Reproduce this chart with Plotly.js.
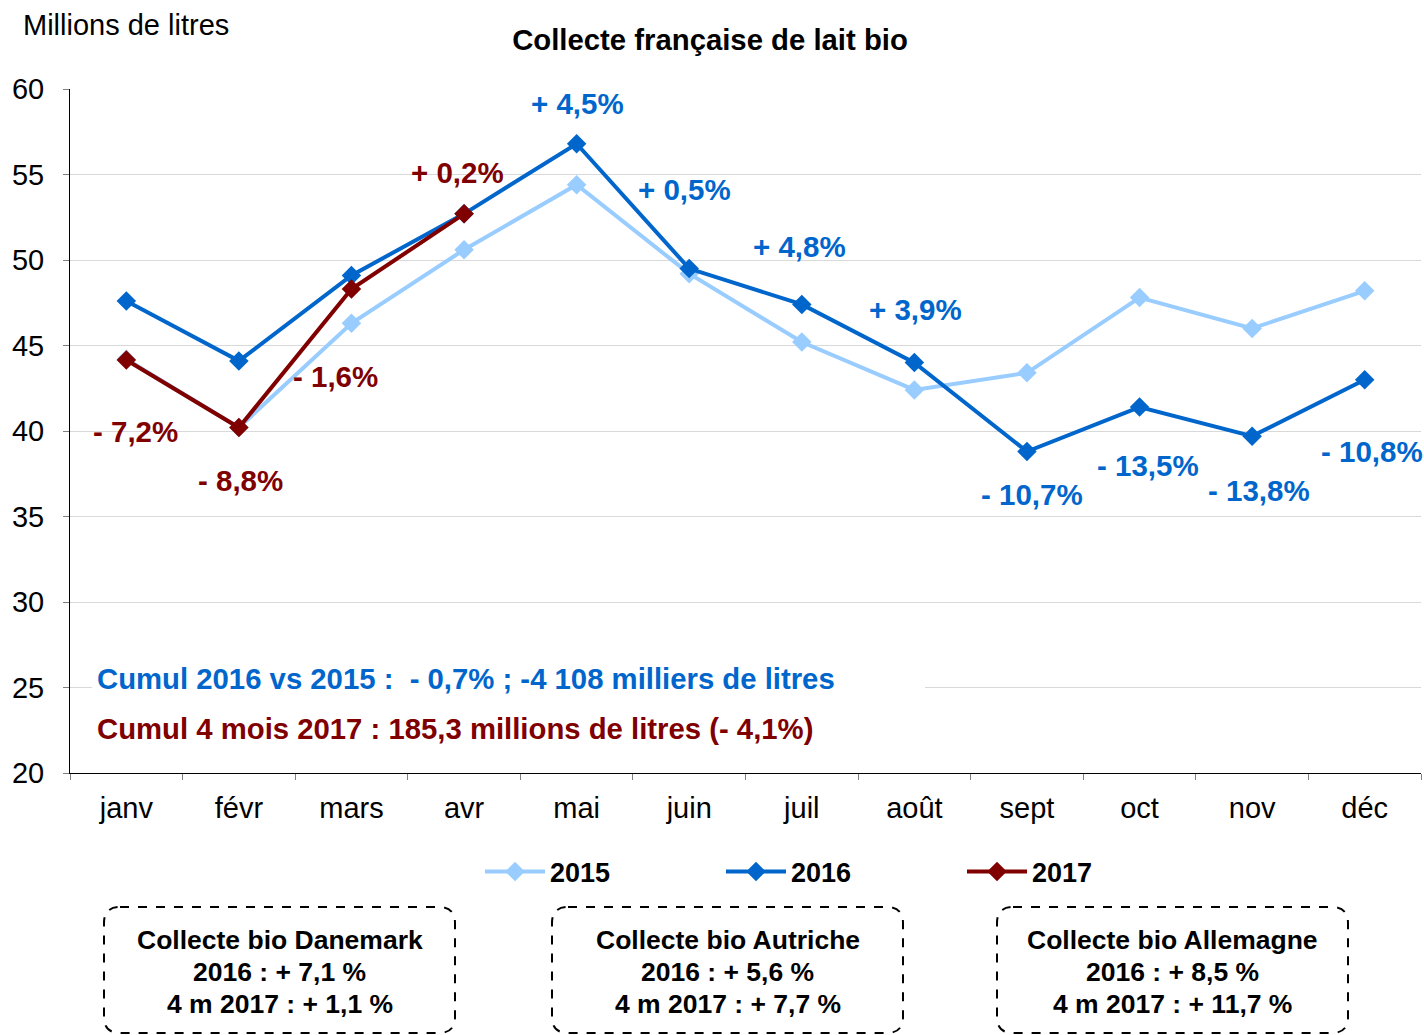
<!DOCTYPE html>
<html>
<head>
<meta charset="utf-8">
<script src="https://cdn.plot.ly/plotly-3.0.1.min.js"></script>
<style>html,body{margin:0;padding:0;background:#fff;}#chart{width:1424px;height:1035px;}</style>
</head>
<body>
<div id="chart"></div>
<script>
var months = ['janv','févr','mars','avr','mai','juin','juil','août','sept','oct','nov','déc'];
var v2015 = [44.2, 40.2, 46.3, 50.6, 54.4, 49.2, 45.2, 42.4, 43.4, 47.8, 46.0, 48.2];
var v2016 = [47.6, 44.1, 49.1, 52.7, 56.8, 49.5, 47.4, 44.0, 38.8, 41.4, 39.7, 43.0];
var v2017 = [44.15, 40.2, 48.3, 52.7];
var months2017 = months.slice(0, 4);

// percentage labels: month, text, y position (value units), x shift px, colour key
var lblMonth = ['mai','juin','juil','août','sept','oct','nov','déc','avr','mars','janv','févr'];
var lblText = ['+ 4,5%','+ 0,5%','+ 4,8%','+ 3,9%','- 10,7%','- 13,5%','- 13,8%','- 10,8%','+ 0,2%','- 1,6%','- 7,2%','- 8,8%'];
var lblY = [59.15, 54.1, 50.8, 47.1, 36.3, 38.0, 36.5, 38.8, 55.1, 43.2, 40.0, 37.1];
var lblShift = [1, -5, -2, 1, 5, 8, 7, 7, -7, -16, 9, 2];
var lblColor = ['b','b','b','b','b','b','b','b','r','r','r','r'];

var boxTitles = ['Collecte bio Danemark','Collecte bio Autriche','Collecte bio Allemagne'];
var box2016 = ['+ 7,1 %','+ 5,6 %','+ 8,5 %'];
var box2017 = ['+ 1,1 %','+ 7,7 %','+ 11,7 %'];

var cumul2016 = 'Cumul 2016 vs 2015 :  - 0,7% ; -4 108 milliers de litres';
var cumul2017 = 'Cumul 4 mois 2017 : 185,3 millions de litres (- 4,1%)';

var C15 = '#99CCFF', C16 = '#0066CC', C17 = '#800000';
var FONT = 'Liberation Sans, Arial, sans-serif';

var traces = [
  {x: months, y: v2015, name: '<b>2015</b>', type: 'scatter', mode: 'lines+markers',
   line: {color: C15, width: 4}, marker: {symbol: 'diamond', size: 15, color: C15}},
  {x: months, y: v2016, name: '<b>2016</b>', type: 'scatter', mode: 'lines+markers',
   line: {color: C16, width: 4}, marker: {symbol: 'diamond', size: 15, color: C16}},
  {x: months2017, y: v2017, name: '<b>2017</b>', type: 'scatter', mode: 'lines+markers',
   line: {color: C17, width: 4}, marker: {symbol: 'diamond', size: 15, color: C17}}
];

// plot area in pixels
var L = 70, R = 1421, T = 89, B = 773, W = 1424, H = 1035;
function px(x){ return (x - L) / (R - L); }
function py(y){ return (B - y) / (B - T); }

var annotations = [];
for (var i = 0; i < lblMonth.length; i++) {
  annotations.push({x: lblMonth[i], y: lblY[i], xref: 'x', yref: 'y', text: '<b>' + lblText[i] + '</b>',
    showarrow: false, xshift: lblShift[i], font: {family: FONT, size: 29.5, color: lblColor[i] === 'b' ? C16 : C17}});
}
annotations.push({xref: 'paper', yref: 'paper', x: px(21), y: py(25), xanchor: 'left', yanchor: 'middle',
  text: 'Millions de litres', showarrow: false, font: {family: FONT, size: 29, color: '#000'}});
annotations.push({xref: 'paper', yref: 'paper', x: px(95), y: py(678), xanchor: 'left', yanchor: 'middle',
  text: '<b>' + cumul2016 + '</b>', showarrow: false,
  font: {family: FONT, size: 29.3, color: C16}});
annotations.push({xref: 'paper', yref: 'paper', x: px(95), y: py(728), xanchor: 'left', yanchor: 'middle',
  text: '<b>' + cumul2017 + '</b>', showarrow: false,
  font: {family: FONT, size: 29.3, color: C17}});

var boxLeft = [104, 552, 997], boxW = 351, boxTop = 907, boxBot = 1033;
var boxLineY = [940, 972, 1004];
var shapes = [];
// white strip behind cumul line hides the 25 gridline
shapes.push({type: 'rect', xref: 'paper', yref: 'paper', x0: px(92), x1: px(925), y0: py(696), y1: py(662),
  fillcolor: '#fff', line: {width: 0}, layer: 'above'});
for (var k = 0; k < 3; k++) {
  var x0 = boxLeft[k], x1 = boxLeft[k] + boxW, y0 = boxTop, y1 = boxBot, r = 16;
  var rx = r / (R - L), ry = r / (B - T);
  var X0 = px(x0), X1 = px(x1), Y0 = py(y0), Y1 = py(y1);
  var path = 'M' + (X0 + rx) + ',' + Y0 + ' L' + (X1 - rx) + ',' + Y0 +
    ' Q' + X1 + ',' + Y0 + ' ' + X1 + ',' + (Y0 - ry) +
    ' L' + X1 + ',' + (Y1 + ry) + ' Q' + X1 + ',' + Y1 + ' ' + (X1 - rx) + ',' + Y1 +
    ' L' + (X0 + rx) + ',' + Y1 + ' Q' + X0 + ',' + Y1 + ' ' + X0 + ',' + (Y1 + ry) +
    ' L' + X0 + ',' + (Y0 - ry) + ' Q' + X0 + ',' + Y0 + ' ' + (X0 + rx) + ',' + Y0 + ' Z';
  shapes.push({type: 'path', xref: 'paper', yref: 'paper', path: path,
    line: {color: '#000', width: 2, dash: 'dash'}, fillcolor: 'rgba(0,0,0,0)'});
  var lines = [boxTitles[k], '2016 : ' + box2016[k], '4 m 2017 : ' + box2017[k]];
  for (var j = 0; j < 3; j++) {
    annotations.push({xref: 'paper', yref: 'paper', x: px(x0 + boxW / 2), y: py(boxLineY[j]), xanchor: 'center', yanchor: 'middle',
      text: '<b>' + lines[j] + '</b>', showarrow: false, font: {family: FONT, size: 26.5, color: '#000'}});
  }
}

var layout = {
  width: W, height: H,
  margin: {l: L, r: W - R, t: T, b: H - B, pad: 0},
  paper_bgcolor: '#fff', plot_bgcolor: '#fff',
  title: {text: '<b>Collecte française de lait bio</b>', x: px(710), xanchor: 'center', xref: 'paper',
    y: 1 - 40 / H, yanchor: 'middle', font: {family: FONT, size: 29.3, color: '#000'}},
  showlegend: true,
  legend: {orientation: 'h', x: px(480), xanchor: 'left', y: py(872), yanchor: 'middle',
    entrywidth: 166, entrywidthmode: 'pixels', itemwidth: 60,
    font: {family: FONT, size: 27, color: '#000'}, bgcolor: 'rgba(0,0,0,0)', tracegroupgap: 0},
  xaxis: {type: 'category', range: [-0.5, 11.5], showgrid: false, showline: true, linecolor: '#000', linewidth: 1,
    ticks: 'outside', tickson: 'boundaries', ticklen: 6, tickcolor: '#808080', ticklabelstandoff: 9,
    tickfont: {family: FONT, size: 29, color: '#000'}, fixedrange: true, automargin: false},
  yaxis: {range: [20, 60], dtick: 5, showgrid: true, gridcolor: '#D9D9D9', gridwidth: 1, zeroline: false,
    showline: true, linecolor: '#000', linewidth: 1, ticks: 'outside', ticklen: 6, tickcolor: '#808080',
    ticklabelstandoff: 13, automargin: false,
    tickfont: {family: FONT, size: 29, color: '#000'}, fixedrange: true},
  annotations: annotations,
  shapes: shapes
};

Plotly.newPlot('chart', traces, layout, {displayModeBar: false, staticPlot: true});
</script>
</body>
</html>
